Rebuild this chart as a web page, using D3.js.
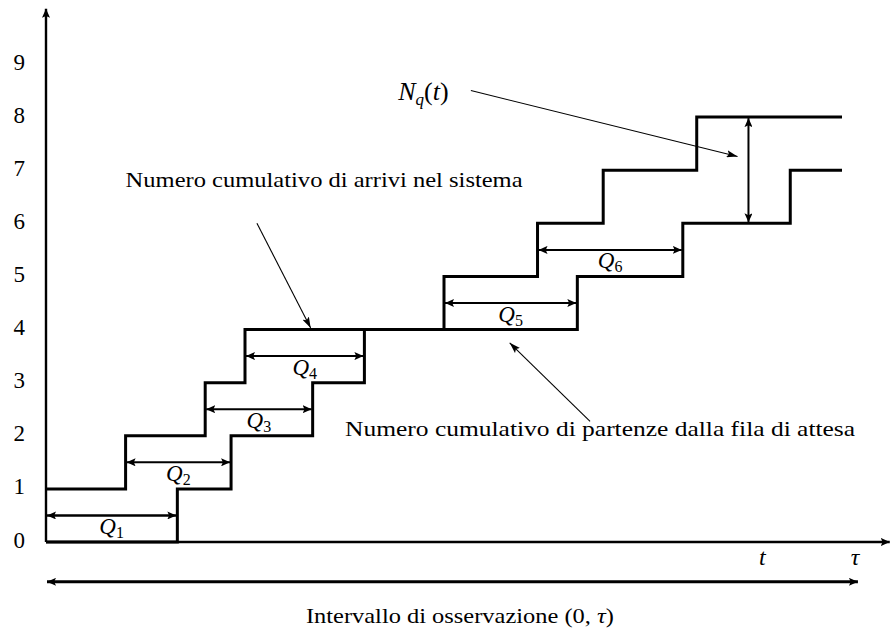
<!DOCTYPE html>
<html>
<head>
<meta charset="utf-8">
<script src="https://cdn.jsdelivr.net/npm/d3@7"></script>
<style>
  html, body { margin: 0; padding: 0; background: #fff; }
  svg { display: block; }
  svg text { font-family: "Liberation Serif", "DejaVu Serif", serif; fill: #000; }
</style>
</head>
<body>
<div id="chart"></div>
<script>
// Queue diagram: cumulative arrivals and departures over the observation interval.
const arrivalTimes   = [0, 4, 8, 10, 20, 24.7, 28, 32.7];     // arrival n jumps the count to n
const departureTimes = [6.6, 9.3, 13.4, 16, 26.7, 32, 37.4];  // departure n jumps the count to n
const endTime = 40;
const yTicks = [0, 1, 2, 3, 4, 5, 6, 7, 8, 9];
const waitLabels = ["1", "2", "3", "4", "5", "6"];           // subscripts of Q_i
const nqTime = 35.3;                                          // where N_q(t) is measured
const nqRange = [6, 8];
const tMark = 36;
const tauMark = 40.65;

const W = 891, H = 632;
const SERIF = "'Liberation Serif', 'DejaVu Serif', serif";
const svg = d3.select("#chart").append("svg").attr("width", W).attr("height", H)
  .style("font-family", SERIF);

const x = d3.scaleLinear().domain([0, 40]).range([46, 842]);
const y = d3.scaleLinear().domain([0, 9]).range([542, 64]);

// arrowhead markers
const defs = svg.append("defs");
function marker(id, len, half, orient) {
  defs.append("marker")
    .attr("id", id)
    .attr("markerUnits", "userSpaceOnUse")
    .attr("viewBox", `${-len} ${-half} ${len + 1} ${2 * half}`)
    .attr("refX", 0).attr("refY", 0)
    .attr("markerWidth", len + 1).attr("markerHeight", 2 * half)
    .attr("orient", orient)
    .append("path")
    .attr("d", `M0,0 L${-len},${-half} L${-len * 0.8},0 L${-len},${half} Z`)
    .attr("fill", "#000");
}
marker("headBig", 9, 4, "auto");
marker("headBigStart", 9, 4, "auto-start-reverse");
marker("headThin", 11, 3.6, "auto");

// axes
const yAxis = d3.axisLeft(y).tickValues(yTicks).tickSize(0).tickPadding(21).tickFormat(d3.format("d"));
const gy = svg.append("g").attr("transform", `translate(${x(0)},0)`).call(yAxis)
  .attr("font-family", null);
gy.select(".domain").remove();
gy.selectAll("text")
  .style("font-family", SERIF)
  .attr("font-size", 23)
  .attr("dy", "0.22em");

svg.append("line")
  .attr("x1", x(0)).attr("y1", y(0))
  .attr("x2", x(0)).attr("y2", y(10.04))
  .attr("stroke", "#000").attr("stroke-width", 2.4)
  .attr("marker-end", "url(#headBig)");

svg.append("line")
  .attr("x1", x(0)).attr("y1", y(0))
  .attr("x2", x(42.4)).attr("y2", y(0))
  .attr("stroke", "#000").attr("stroke-width", 2.4)
  .attr("marker-end", "url(#headBig)");

// step curves
const step = d3.line().x(d => x(d[0])).y(d => y(d[1])).curve(d3.curveStepAfter);

const arrivalPts = arrivalTimes.map((t, i) => [t, i + 1]);
arrivalPts.push([endTime, arrivalTimes.length]);
const departurePts = [[0, 0]].concat(departureTimes.map((t, i) => [t, i + 1]));
departurePts.push([endTime, departureTimes.length]);

svg.append("path").attr("d", step(arrivalPts))
  .attr("fill", "none").attr("stroke", "#000").attr("stroke-width", 3)
  .attr("stroke-linejoin", "miter");
svg.append("path").attr("d", step(departurePts))
  .attr("fill", "none").attr("stroke", "#000").attr("stroke-width", 3)
  .attr("stroke-linejoin", "miter");

// waiting times Q_i: from arrival i to departure i
const waits = waitLabels.map((lab, i) => ({
  lab, a: arrivalTimes[i], d: departureTimes[i], level: i + 0.5
}));

svg.append("g").selectAll("line").data(waits).join("line")
  .attr("x1", d => x(d.a) + 1).attr("x2", d => x(d.d) - 1)
  .attr("y1", d => y(d.level)).attr("y2", d => y(d.level))
  .attr("stroke", "#000").attr("stroke-width", (d, i) => i === 0 ? 2.6 : 2)
  .attr("marker-start", "url(#headBigStart)")
  .attr("marker-end", "url(#headBig)");

const ql = svg.append("g").selectAll("text").data(waits).join("text")
  .attr("x", d => x((d.a + d.d) / 2))
  .attr("y", d => y(d.level - 0.35))
  .attr("text-anchor", "middle")
  .attr("font-size", 23);
ql.append("tspan").attr("font-style", "italic").text("Q");
ql.append("tspan").attr("font-size", 16).attr("dy", 4).text(d => d.lab);

// N_q(t) as a vertical double arrow
svg.append("line")
  .attr("x1", x(nqTime)).attr("x2", x(nqTime))
  .attr("y1", y(nqRange[0]) - 1).attr("y2", y(nqRange[1]) + 1)
  .attr("stroke", "#000").attr("stroke-width", 2)
  .attr("marker-start", "url(#headBigStart)")
  .attr("marker-end", "url(#headBig)");

const nq = svg.append("text")
  .attr("x", x(17.7)).attr("y", y(8.32))
  .attr("font-size", 26);
nq.append("tspan").attr("font-style", "italic").text("N");
nq.append("tspan").attr("font-style", "italic").attr("font-size", 17).attr("dy", 5).text("q");
nq.append("tspan").attr("dy", -5).text("(");
nq.append("tspan").attr("font-style", "italic").text("t");
nq.append("tspan").text(")");

// annotation pointers
function pointer(from, to) {
  svg.append("line")
    .attr("x1", x(from[0])).attr("y1", y(from[1]))
    .attr("x2", x(to[0])).attr("y2", y(to[1]))
    .attr("stroke", "#000").attr("stroke-width", 1.1)
    .attr("marker-end", "url(#headThin)");
}
pointer([21.35, 8.5], [34.75, 7.26]);
pointer([10.6, 6.0], [13.3, 4.03]);
pointer([27.34, 2.27], [23.3, 3.75]);

svg.append("text")
  .attr("x", x(4.0)).attr("y", y(6.69))
  .attr("font-size", 22)
  .attr("textLength", 397).attr("lengthAdjust", "spacingAndGlyphs")
  .text("Numero cumulativo di arrivi nel sistema");

svg.append("text")
  .attr("x", x(15.03)).attr("y", y(2.0))
  .attr("font-size", 22)
  .attr("textLength", 510).attr("lengthAdjust", "spacingAndGlyphs")
  .text("Numero cumulativo di partenze dalla fila di attesa");

// time marks under the axis
svg.append("text").attr("x", x(tMark)).attr("y", y(-0.43))
  .attr("text-anchor", "middle").attr("font-size", 24).attr("font-style", "italic").text("t");
svg.append("text").attr("x", x(tauMark)).attr("y", y(-0.43))
  .attr("text-anchor", "middle").attr("font-size", 24).attr("font-style", "italic").text("τ");

// observation interval
svg.append("line")
  .attr("x1", x(0) + 1).attr("x2", x(40.8))
  .attr("y1", y(-0.75)).attr("y2", y(-0.75))
  .attr("stroke", "#000").attr("stroke-width", 3)
  .attr("marker-start", "url(#headBigStart)")
  .attr("marker-end", "url(#headBig)");

const iv = svg.append("text")
  .attr("x", x(20.8)).attr("y", y(-1.53))
  .attr("text-anchor", "middle")
  .attr("font-size", 22)
  .attr("textLength", 308).attr("lengthAdjust", "spacingAndGlyphs");
iv.append("tspan").text("Intervallo di osservazione (0, ");
iv.append("tspan").attr("font-style", "italic").text("τ");
iv.append("tspan").text(")");
</script>
</body>
</html>
